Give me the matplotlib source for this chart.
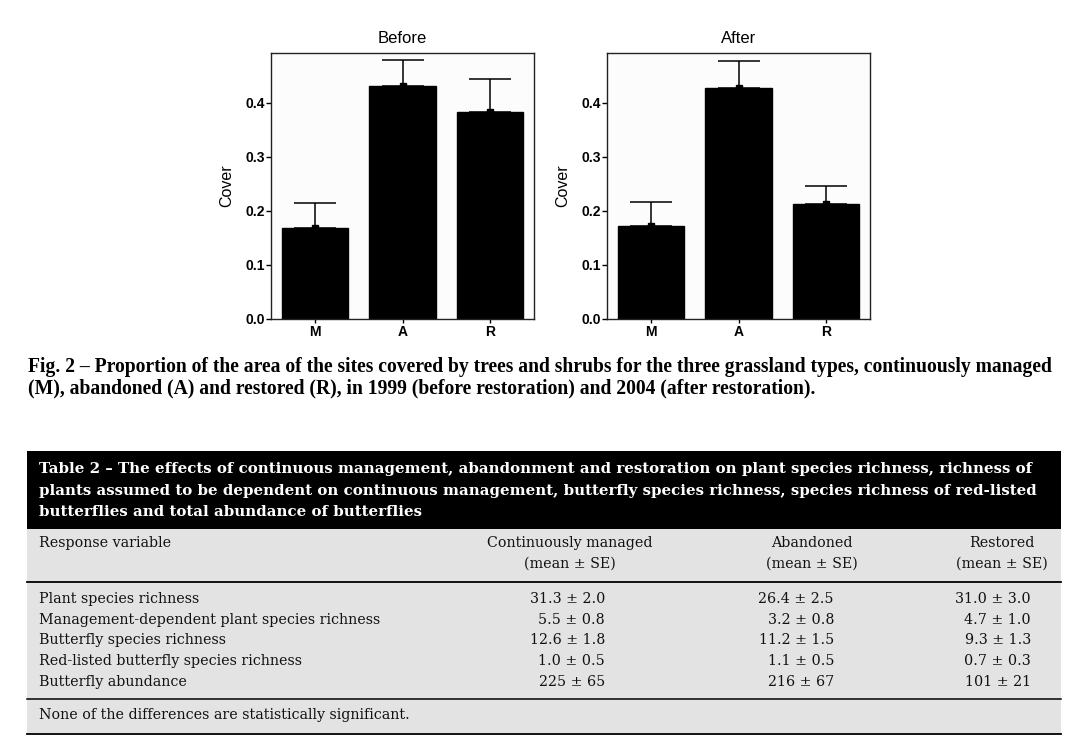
import matplotlib
matplotlib.use("Agg")
import matplotlib.pyplot as plt
from matplotlib.patches import Rectangle
from matplotlib.lines import Line2D

# ---------------- data ----------------
groups = ["M", "A", "R"]
before_mean = [0.169, 0.431, 0.383]
before_se = [0.046, 0.048, 0.060]
after_mean = [0.171, 0.427, 0.212]
after_se = [0.046, 0.049, 0.034]
yticks = [0.0, 0.1, 0.2, 0.3, 0.4]
ytick_labels = ["0.0", "0.1", "0.2", "0.3", "0.4"]

caption_lines = [
    "Fig. 2 \u2013 Proportion of the area of the sites covered by trees and shrubs for the three grassland types, continuously managed",
    "(M), abandoned (A) and restored (R), in 1999 (before restoration) and 2004 (after restoration).",
]
table_title_lines = [
    "Table 2 \u2013 The effects of continuous management, abandonment and restoration on plant species richness, richness of",
    "plants assumed to be dependent on continuous management, butterfly species richness, species richness of red-listed",
    "butterflies and total abundance of butterflies",
]
col_headers = ["Response variable", "Continuously managed", "Abandoned", "Restored"]
col_subheader = "(mean \u00b1 SE)"
row_labels = [
    "Plant species richness",
    "Management-dependent plant species richness",
    "Butterfly species richness",
    "Red-listed butterfly species richness",
    "Butterfly abundance",
]
managed_vals = ["31.3 \u00b1 2.0", "5.5 \u00b1 0.8", "12.6 \u00b1 1.8", "1.0 \u00b1 0.5", "225 \u00b1 65"]
abandoned_vals = ["26.4 \u00b1 2.5", "3.2 \u00b1 0.8", "11.2 \u00b1 1.5", "1.1 \u00b1 0.5", "216 \u00b1 67"]
restored_vals = ["31.0 \u00b1 3.0", "4.7 \u00b1 1.0", "9.3 \u00b1 1.3", "0.7 \u00b1 0.3", "101 \u00b1 21"]
footnote = "None of the differences are statistically significant."

# ---------------- figure ----------------
W, H = 1069, 747
fig = plt.figure(figsize=(W / 100, H / 100), dpi=100)
fig.patch.set_facecolor("white")


def fx(px):
    return px / W


def fy(py):
    return 1 - py / H


sans = ["Liberation Sans", "DejaVu Sans"]


def bar_panel(left_px, title, means, ses):
    ax = fig.add_axes([fx(left_px), fy(319), fx(263), (319 - 53) / H])
    ax.set_facecolor("#fcfcfc")
    x = list(range(len(groups)))
    ax.bar(x, means, width=0.76, color="black", edgecolor="black", zorder=2)
    ax.errorbar(x, means, yerr=[[0] * len(ses), ses], fmt="s", ms=4.5,
                color="black", ecolor="black", elinewidth=1.1, capsize=15,
                capthick=1.1, zorder=3)
    ax.set_xlim(-0.5, 2.5)
    ax.set_ylim(0, 0.4917)
    ax.set_yticks(yticks)
    ax.set_yticklabels(ytick_labels, fontfamily=sans, fontweight="bold", fontsize=10)
    ax.set_xticks(x)
    ax.set_xticklabels(groups, fontfamily=sans, fontweight="bold", fontsize=10)
    ax.tick_params(axis="y", direction="out", length=3.5, width=1, pad=1)
    ax.tick_params(axis="x", direction="out", length=3, width=1, pad=1.5)
    for s in ax.spines.values():
        s.set_linewidth(1.0)
        s.set_color("#222222")
    ax.set_ylabel("Cover", fontfamily=sans, fontsize=11.5, labelpad=8)
    ax.set_title(title, fontfamily=sans, fontsize=12, pad=7)
    return ax


bar_panel(271, "Before", before_mean, before_se)
bar_panel(607, "After", after_mean, after_se)

renderer = fig.canvas.get_renderer()


def fit(t, target_px):
    for _ in range(3):
        bb = t.get_window_extent(renderer)
        t.set_fontsize(t.get_fontsize() * target_px / bb.width)
    return t.get_fontsize()


# caption
cap_font = ["Liberation Serif", "DejaVu Serif"]
t1 = fig.text(fx(28), fy(367), caption_lines[0], fontfamily=cap_font,
              fontweight="bold", fontsize=13, va="center", ha="left")
fs = fit(t1, 1032)
fig.text(fx(28), fy(388), caption_lines[1], fontfamily=cap_font,
         fontweight="bold", fontsize=fs, va="center", ha="left")

# table backgrounds
fig.patches.append(Rectangle((fx(27), fy(529)), fx(1061 - 27), (529 - 451) / H,
                             transform=fig.transFigure, facecolor="black",
                             edgecolor="none", zorder=0))
fig.patches.append(Rectangle((fx(27), fy(734)), fx(1061 - 27), (734 - 529) / H,
                             transform=fig.transFigure, facecolor="#e3e3e3",
                             edgecolor="none", zorder=0))
for yl, lw in [(582, 1.3), (699, 1.1), (734, 1.3)]:
    fig.lines.append(Line2D([fx(27), fx(1061)], [fy(yl), fy(yl)],
                            transform=fig.transFigure, color="black", lw=lw))

# table title
hdr_font = ["DejaVu Serif"]
th = fig.text(fx(39), fy(469), table_title_lines[0], fontfamily=hdr_font,
              fontweight="bold", fontsize=11, color="white", va="center", ha="left")
hfs = fit(th, 997)
for line, yy in zip(table_title_lines[1:], [491, 512]):
    fig.text(fx(39), fy(yy), line, fontfamily=hdr_font, fontweight="bold",
             fontsize=hfs, color="white", va="center", ha="left")

# table body
body_font = ["DejaVu Serif"]
tb = fig.text(fx(39), fy(620), row_labels[1], fontfamily=body_font,
              fontsize=10, va="center", ha="left", color="#111111")
bfs = fit(tb, 340)

fig.text(fx(39), fy(543), col_headers[0], fontfamily=body_font, fontsize=bfs,
         va="center", ha="left", color="#111111")
for hdr, cx in zip(col_headers[1:], [570, 812, 1002]):
    fig.text(fx(cx), fy(543), hdr, fontfamily=body_font, fontsize=bfs,
             va="center", ha="center", color="#111111")
    fig.text(fx(cx), fy(564), col_subheader, fontfamily=body_font, fontsize=bfs,
             va="center", ha="center", color="#111111")

row_y = [599, 620, 640, 661, 682]
for i, (lab, yy) in enumerate(zip(row_labels, row_y)):
    if i != 1:
        fig.text(fx(39), fy(yy), lab, fontfamily=body_font, fontsize=bfs,
                 va="center", ha="left", color="#111111")
    for vals, rx in [(managed_vals, 605), (abandoned_vals, 834), (restored_vals, 1031)]:
        fig.text(fx(rx), fy(yy), vals[i], fontfamily=body_font, fontsize=bfs,
                 va="center", ha="right", color="#111111")

fig.text(fx(39), fy(715), footnote, fontfamily=body_font, fontsize=bfs,
         va="center", ha="left", color="#111111")

fig.savefig("out.png", dpi=100, facecolor="white")
